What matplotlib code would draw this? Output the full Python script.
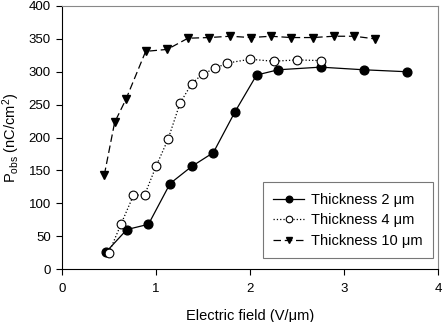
import matplotlib
matplotlib.use("Agg")
import matplotlib.pyplot as plt

plt.rcParams['font.family'] = ['Liberation Sans', 'DejaVu Sans']
plt.rcParams['mathtext.fontset'] = 'custom'
plt.rcParams['mathtext.rm'] = 'Liberation Sans'
plt.rcParams['mathtext.it'] = 'Liberation Sans:italic'

x2 = [0.47, 0.69, 0.92, 1.15, 1.38, 1.61, 1.84, 2.07, 2.30, 2.75, 3.21, 3.67]
y2 = [26, 60, 68, 130, 156, 177, 239, 295, 303, 307, 303, 300]

x4 = [0.50, 0.63, 0.76, 0.88, 1.00, 1.13, 1.255, 1.38, 1.50, 1.63, 1.75, 2.00, 2.25, 2.50, 2.75]
y4 = [25, 69, 112, 113, 156, 198, 252, 282, 297, 305, 313, 319, 316, 318, 317]

x10 = [0.45, 0.56, 0.68, 0.89, 1.12, 1.34, 1.56, 1.79, 2.01, 2.22, 2.44, 2.67, 2.89, 3.11, 3.33]
y10 = [143, 223, 258, 331, 334, 351, 352, 354, 352, 354, 352, 352, 354, 354, 350]

labels = ['Thickness 2 \u03bcm', 'Thickness 4 \u03bcm', 'Thickness 10 \u03bcm']

fig = plt.figure(figsize=(4.43, 3.22), dpi=100)
ax = fig.add_axes([62/443, 1-269/322, (438-62)/443, (269-6)/322])

ax.plot(x2, y2, '-', color='black', lw=0.9, marker='o', ms=6.3,
        mfc='black', mec='black', label=labels[0])
ax.plot(x4, y4, ':', color='black', lw=0.9, marker='o', ms=6.3,
        mfc='white', mec='black', mew=0.8, label=labels[1])
ax.plot(x10, y10, color='black', lw=0.9, dashes=(6, 3), marker='v', ms=5.8,
        mfc='black', mec='black', label=labels[2])

ax.set_xlim(0, 4)
ax.set_ylim(0, 400)
ax.set_xticks([0, 1, 2, 3, 4])
ax.set_yticks(range(0, 401, 50))
ax.tick_params(direction='out', length=4, width=0.8, labelsize=9.5, colors='black')
ax.tick_params(axis='x', pad=6)
ax.tick_params(axis='y', pad=4)
for s in ['top', 'right']:
    ax.spines[s].set_color('#888888')
for s in ['left', 'bottom']:
    ax.spines[s].set_color('black')
    ax.spines[s].set_linewidth(0.8)

ax.set_xlabel('Electric field (V/\u03bcm)', fontsize=10.5, labelpad=10)
ax.set_ylabel(r'P$_{\rm obs}$ (nC/cm$^2$)', fontsize=10.5, labelpad=5)

leg = ax.legend(loc='lower right', bbox_to_anchor=(0.987, 0.042), borderaxespad=0,
                fontsize=10.5, frameon=True, fancybox=False, edgecolor='#555555',
                handlelength=2.1, borderpad=0.7, labelspacing=0.45, handletextpad=0.5,
                markerscale=0.75)
leg.get_frame().set_linewidth(0.8)

fig.savefig('out.png', dpi=100)
